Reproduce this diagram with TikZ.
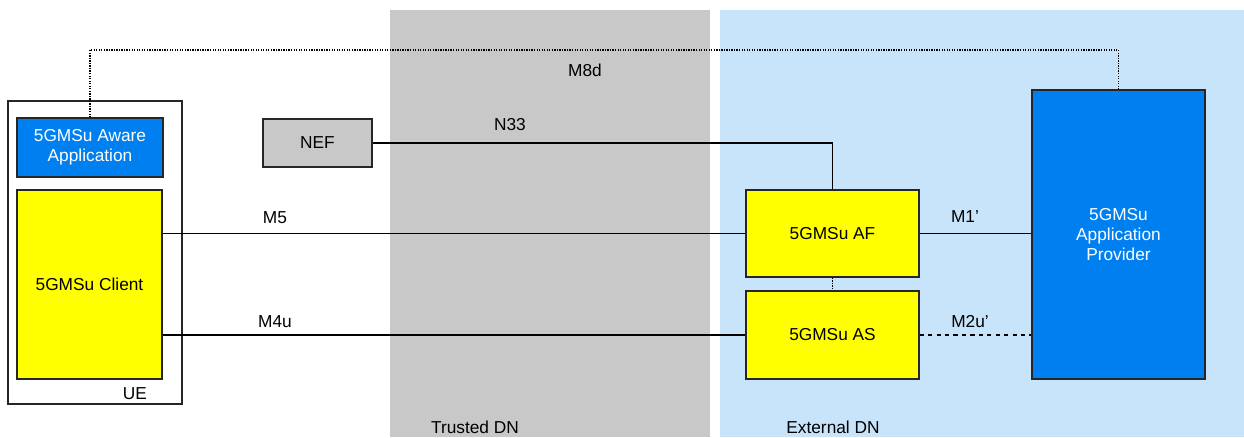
\documentclass[tikz,border=0pt]{standalone}
\usepackage{fontspec}
\setmainfont{Liberation Sans}
\usepackage{tikz}

\definecolor{trustgray}{HTML}{C8C8C8}
\definecolor{extblue}{HTML}{C8E4FA}
\definecolor{appblue}{HTML}{0080F0}
\definecolor{fnyellow}{HTML}{FFFF00}

\tikzset{
    fn/.style={draw=black!85, line width=1pt, fill=fnyellow, align=center, inner sep=1pt},
    app/.style={draw=black!85, line width=1pt, fill=appblue, text=white, align=center, inner sep=1pt},
    itf/.style={line width=0.9pt},
    dots/.style={dash pattern=on 0.9pt off 0.9pt},
    lbl/.style={inner sep=0pt}
}

\begin{document}
\begin{tikzpicture}[x=0.025cm, y=-0.025cm, font=\fontsize{12.3}{14.3}\selectfont]
        \useasboundingbox (0,0) rectangle (1244,437);

        % data networks
        \fill[trustgray] (390,10) rectangle (710,437);
        \fill[extblue] (720,10) rectangle (1244,437);

        \node[draw=black!85, line width=1pt, minimum width=4.35cm, minimum height=7.575cm] (ue) at (95,252.5) {};
        \node[app, minimum width=3.65cm, minimum height=1.475cm] (aware) at (90,147.5) {5GMSu Aware\\Application};
        \node[fn, minimum width=3.625cm, minimum height=4.725cm] (client) at (89.5,284.5) {5GMSu Client};
        \node[fn, fill=trustgray, minimum width=2.725cm, minimum height=1.2cm] (nef) at (317.5,143) {NEF};
        \node[fn, minimum width=4.325cm, minimum height=2.175cm] (af) at (832.5,233.5) {5GMSu AF};
        \node[fn, minimum width=4.325cm, minimum height=2.2cm] (as) at (832.5,335) {5GMSu AS};
        \node[app, minimum width=4.325cm, minimum height=7.225cm] (prov) at (1118.5,234.5) {5GMSu\\Application\\Provider};

        \draw[itf, dots] (aware.north) -- (aware.north |- 0,50) -| (prov.north);
        \draw[itf] (nef.east) -- (af.north |- nef.east) -- (af.north);
        \draw[itf] (client.east |- af.west) -- (af.west);
        \draw[itf] (client.east |- as.west) -- (as.west);
        \draw[itf] (af.east) -- (prov.west |- af.east);
        \draw[itf, dashed] (as.east) -- (prov.west |- as.east);
        \draw[itf, dots] (af.south) -- (as.north);

        \node[lbl] (m8d) at (585,70) {M8d};
        \node[lbl] (n33) at (510,125) {N33};
        \node[lbl] (m5) at (275,218) {M5};
        \node[lbl] (m4u) at (275,322) {M4u};
        \node[lbl] (m1) at (965,217) {M1’};
        \node[lbl] (m2u) at (970,322) {M2u’};
        \node[lbl] (uelbl) at (135,394) {UE};
        \node[lbl] (trusted) at (475,427) {Trusted DN};
        \node[lbl] (external) at (833,427) {External DN};
\end{tikzpicture}
\end{document}
